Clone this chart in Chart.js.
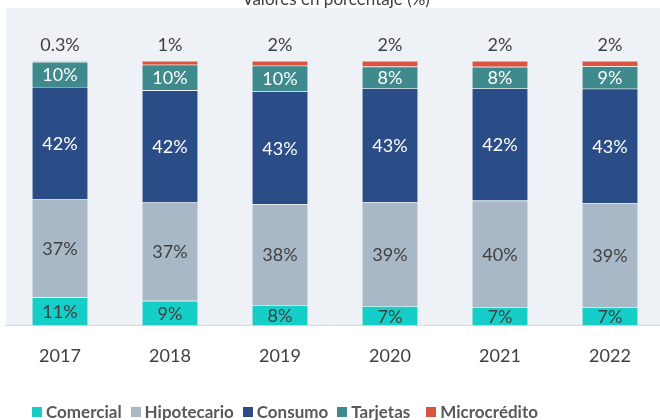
<!DOCTYPE html>
<html lang="es">
<head>
    <meta charset="UTF-8">
    <title>Cartera por tipo de crédito</title>
    <script src="https://cdn.jsdelivr.net/npm/chart.js"></script>
    <style>
        body {
            margin: 0;
            overflow: hidden;
            background: #ffffff;
            font-family: Lato, "Open Sans", sans-serif;
        }
        .wrap {
            position: relative;
            width: 665px;
            height: 420px;
        }
        .leyenda {
            position: absolute;
            left: 32px;
            top: 401px;
            display: flex;
            align-items: center;
            font-weight: bold;
            font-size: 17px;
            color: #595959;
            white-space: nowrap;
        }
        .leyenda span.item {
            display: flex;
            align-items: center;
            margin-right: 9px;
        }
        .leyenda span.item:nth-child(4) {
            margin-right: 16px;
        }
        .leyenda i {
            display: inline-block;
            width: 10px;
            height: 10px;
            margin-right: 4px;
        }
    </style>
</head>
<body>

<div class="wrap">
    <canvas id="grafico" width="665" height="420"></canvas>
    <div class="leyenda" id="leyenda"></div>
</div>

<script>
    // Datos (porcentaje de la cartera)
    const anios = ['2017', '2018', '2019', '2020', '2021', '2022'];
    const comercial    = [10.6, 9.3, 7.7, 7.3, 6.9, 6.9];
    const hipotecario  = [37.2, 37.4, 38.2, 39.3, 40.3, 39.3];
    const consumo      = [42.4, 42.2, 42.6, 43.1, 42.4, 43.3];
    const tarjetas     = [9.5, 9.7, 9.7, 8.2, 8.2, 8.5];
    const microcredito = [0.3, 1.4, 1.8, 2.1, 2.2, 2.0];

    const series = [
        { label: 'Comercial', data: comercial, color: '#14cec7', texto: '#404040' },
        { label: 'Hipotecario', data: hipotecario, color: '#a9b8c6', texto: '#404040' },
        { label: 'Consumo', data: consumo, color: '#2b4d87', texto: '#ffffff' },
        { label: 'Tarjetas', data: tarjetas, color: '#3f8a8c', texto: '#ffffff' },
        { label: 'Microcrédito', data: microcredito, color: '#d9553f', texto: '#404040' }
    ];

    function formato(v) {
        return (v < 1 ? v.toFixed(1) : Math.round(v)) + '%';
    }

    // fondo gris, título y etiquetas de valores
    const extras = {
        id: 'extras',
        beforeDraw(chart) {
            const ctx = chart.ctx;
            const area = chart.chartArea;
            ctx.save();
            ctx.fillStyle = '#eef1f5';
            ctx.fillRect(6, 8, chart.width - 6, area.bottom - 8);
            ctx.fillStyle = '#404040';
            ctx.font = '17px Lato';
            ctx.textAlign = 'center';
            ctx.textBaseline = 'middle';
            ctx.fillText('Valores en porcentaje (%)', 336, 0);
            ctx.restore();
        },
        afterDatasetsDraw(chart) {
            const ctx = chart.ctx;
            ctx.save();
            ctx.font = '18px Lato';
            ctx.textAlign = 'center';
            ctx.textBaseline = 'middle';
            chart.data.datasets.forEach((ds, i) => {
                const meta = chart.getDatasetMeta(i);
                meta.data.forEach((bar, j) => {
                    const v = ds.data[j];
                    ctx.fillStyle = series[i].texto;
                    if (i === 4) {
                        ctx.fillText(formato(v), bar.x, bar.y - 16);
                    } else {
                        ctx.fillText(formato(v), bar.x, (bar.y + bar.base) / 2 + 1);
                    }
                });
            });
            ctx.restore();
        }
    };

    const ctx = document.getElementById('grafico').getContext('2d');
    const grafico = new Chart(ctx, {
        type: 'bar',
        data: {
            labels: anios,
            datasets: series.map(s => ({
                label: s.label,
                data: s.data,
                backgroundColor: s.color,
                borderColor: 'rgba(255,255,255,0.35)',
                borderWidth: 0.6,
                barPercentage: 0.51,
                categoryPercentage: 1
            }))
        },
        options: {
            responsive: false,
            animation: false,
            layout: {
                padding: { left: 5, right: 0, top: 61, bottom: 41 }
            },
            plugins: {
                legend: { display: false },
                tooltip: { enabled: false }
            },
            scales: {
                x: {
                    stacked: true,
                    grid: { display: false },
                    border: { display: true, color: '#d9d9d9', width: 1 },
                    ticks: {
                        color: '#404040',
                        font: { family: 'Lato', size: 18 },
                        padding: 12
                    }
                },
                y: {
                    stacked: true,
                    display: false,
                    min: 0,
                    max: 100
                }
            }
        },
        plugins: [extras]
    });

    // leyenda HTML
    const ley = document.getElementById('leyenda');
    series.forEach(s => {
        const item = document.createElement('span');
        item.className = 'item';
        const cuadro = document.createElement('i');
        cuadro.style.background = s.color;
        item.appendChild(cuadro);
        item.appendChild(document.createTextNode(s.label));
        ley.appendChild(item);
    });
</script>

</body>
</html>
